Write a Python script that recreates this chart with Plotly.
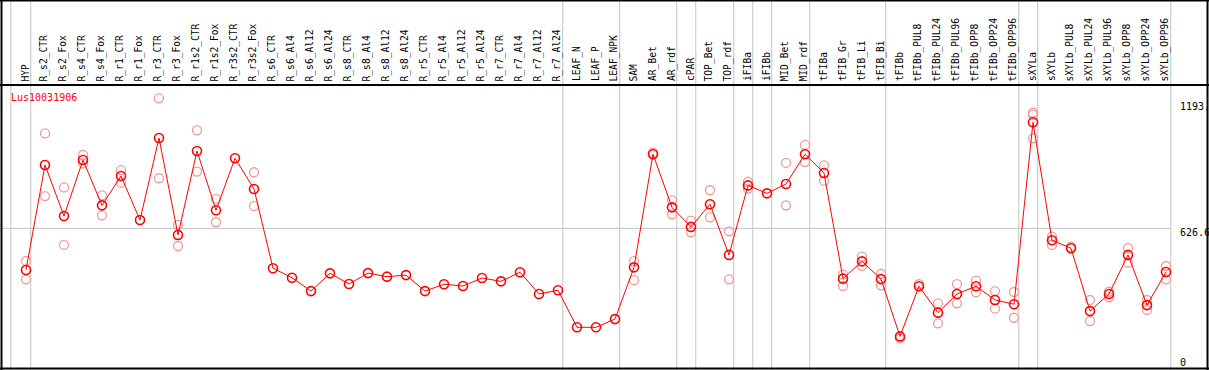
import plotly.graph_objects as go

W, H = 1209, 370

# ---------------- data ----------------
categories = [
    "HYP", "R_s2_CTR", "R_s2_Fox", "R_s4_CTR", "R_s4_Fox", "R_r1_CTR", "R_r1_Fox",
    "R_r3_CTR", "R_r3_Fox", "R_r1s2_CTR", "R_r1s2_Fox", "R_r3s2_CTR", "R_r3s2_Fox",
    "R_s6_CTR", "R_s6_Al4", "R_s6_Al12", "R_s6_Al24", "R_s8_CTR", "R_s8_Al4",
    "R_s8_Al12", "R_s8_Al24", "R_r5_CTR", "R_r5_Al4", "R_r5_Al12", "R_r5_Al24",
    "R_r7_CTR", "R_r7_Al4", "R_r7_Al12", "R_r7_Al24", "LEAF_N", "LEAF_P", "LEAF_NPK",
    "SAM", "AR_Bet", "AR_rdf", "cPAR", "TOP_Bet", "TOP_rdf", "iFIBa", "iFIBb",
    "MID_Bet", "MID_rdf", "tFIBa", "tFIB_Gr", "tFIB_Li", "tFIB_Bi", "tFIBb",
    "tFIBb_PUL8", "tFIBb_PUL24", "tFIBb_PUL96", "tFIBb_OPP8", "tFIBb_OPP24",
    "tFIBb_OPP96", "sXYLa", "sXYLb", "sXYLb_PUL8", "sXYLb_PUL24", "sXYLb_PUL96",
    "sXYLb_OPP8", "sXYLb_OPP24", "sXYLb_OPP96",
]

mean_values = [
    439, 912, 682, 934, 730, 862, 664, 1033, 597, 975, 708, 942, 804,
    447, 404, 344, 424, 376, 425, 409, 416, 344, 375, 367, 403, 388, 429, 331, 348,
    181, 181, 218, 451, 960, 721, 633, 735, 507, 820, 784, 826, 960, 876,
    400, 478, 398, 140, 366, 247, 331, 366, 304, 285,
    1104, 573, 537, 254, 331, 507, 281, 430,
]

rep1 = [
    480, 1054, 811, 957, 775, 889, None, 1212, 642, 1068, 759, None, 879,
    None, None, None, None, None, None, None, None, None, None, None, None, None, None, None, None,
    None, None, None, 479, 967, 754, 661, 798, 613, 837, None, 921, 1002, 910,
    418, 499, 422, 131, 375, 289, 375, 391, 344, 340,
    1147, 589, 544, 304, 341, 538, 304, 457,
]
rep2 = [
    397, 772, 552, 919, 685, 832, None, 852, 547, 882, 654, None, 727,
    None, None, None, None, None, None, None, None, None, None, None, None, None, None, None, None,
    None, None, None, 393, None, 690, 609, 676, 397, 805, None, 730, 925, 840,
    367, 458, 370, None, None, 199, 289, 339, 265, 224,
    1137, 552, None, 209, 316, 472, 259, 397,
]
rep3 = [None] * 53 + [1032] + [None] * 7

gene_label = "Lus10031906"
axis_labels = ["1193.", "626.6", "0"]
gridline_value = 626.6
group_ends = [0, 28, 31, 34, 35, 37, 38, 39, 41, 45, 52, 53, 60]

# ---------------- geometry ----------------
X0_PX, STEP_PX = 26.0, 19.0          # pixel of first category, spacing
Y0_PX, PX_PER_UNIT = 367.5, 0.2221   # pixel of value 0, pixels per unit
x_lo = -X0_PX / STEP_PX
x_hi = x_lo + W / STEP_PX
y_hi = Y0_PX / PX_PER_UNIT
y_lo = -(H - Y0_PX) / PX_PER_UNIT

def px(xp):
    return xp / W

def py(yp):
    return 1 - yp / H

RED = "#ff0000"
PINK = "#ef9a9a"
GRID = "#c4c4c4"
FONT = "DejaVu Sans Mono"

xs = list(range(len(categories)))

rx, ry = [], []
for reps in (rep1, rep2, rep3):
    for i, v in enumerate(reps):
        if v is not None:
            rx.append(i)
            ry.append(v)

fig = go.Figure()
fig.add_trace(go.Scatter(
    x=rx, y=ry, mode="markers",
    marker=dict(symbol="circle-open", size=9, color=PINK, line=dict(width=1.3, color=PINK)),
    hoverinfo="skip", showlegend=False,
))
fig.add_trace(go.Scatter(
    x=xs, y=mean_values, mode="lines+markers",
    line=dict(color=RED, width=1),
    marker=dict(symbol="circle-open", size=9, color=RED, line=dict(width=1.6, color=RED)),
    text=categories, showlegend=False,
))

shapes = []
for gx in [-0.8] + [g + 0.25 for g in group_ends]:
    shapes.append(dict(type="line", xref="x", yref="paper", x0=gx, x1=gx, y0=0, y1=1,
                       line=dict(color=GRID, width=1), layer="below"))
shapes.append(dict(type="line", xref="paper", yref="y", x0=0, x1=px(X0_PX + STEP_PX * 60.25),
                   y0=gridline_value, y1=gridline_value,
                   line=dict(color=GRID, width=1), layer="below"))
frame = dict(color="black", width=2)
shapes += [
    dict(type="line", xref="paper", yref="paper", x0=0, x1=1, y0=py(0.5), y1=py(0.5), line=frame),
    dict(type="line", xref="paper", yref="paper", x0=0, x1=1, y0=py(85), y1=py(85), line=frame),
    dict(type="line", xref="paper", yref="paper", x0=0, x1=1, y0=py(368.5), y1=py(368.5), line=frame),
    dict(type="line", xref="paper", yref="paper", x0=px(1.5), x1=px(1.5), y0=0, y1=1, line=frame),
    dict(type="line", xref="paper", yref="paper", x0=px(1207.5), x1=px(1207.5), y0=0, y1=1, line=frame),
]

annotations = []
for i, c in enumerate(categories):
    annotations.append(dict(
        x=i - 0.03, xref="x", y=py(83), yref="paper", text=c, textangle=-90,
        xanchor="center", yanchor="bottom", showarrow=False,
        font=dict(family=FONT, size=9.6, color="black"),
    ))
annotations.append(dict(
    x=px(9), xref="paper", y=py(97), yref="paper", text=gene_label,
    xanchor="left", yanchor="middle", showarrow=False,
    font=dict(family=FONT, size=10, color=RED),
))
label_py = [106.7, 232.7, 362.3]
for t, yy in zip(axis_labels, label_py):
    annotations.append(dict(
        x=px(1178), xref="paper", y=py(yy), yref="paper", text=t,
        xanchor="left", yanchor="middle", showarrow=False,
        font=dict(family=FONT, size=10, color="black"),
    ))

fig.update_layout(
    width=W, height=H,
    margin=dict(l=0, r=0, t=0, b=0),
    paper_bgcolor="white", plot_bgcolor="white",
    xaxis=dict(range=[x_lo, x_hi], visible=False, fixedrange=True),
    yaxis=dict(range=[y_lo, y_hi], visible=False, fixedrange=True),
    shapes=shapes, annotations=annotations,
    showlegend=False,
)

fig.write_html(
    "out.html",
    config={"displayModeBar": False, "staticPlot": True},
    post_script="document.body.style.margin='0';document.body.style.overflow='hidden';",
)
